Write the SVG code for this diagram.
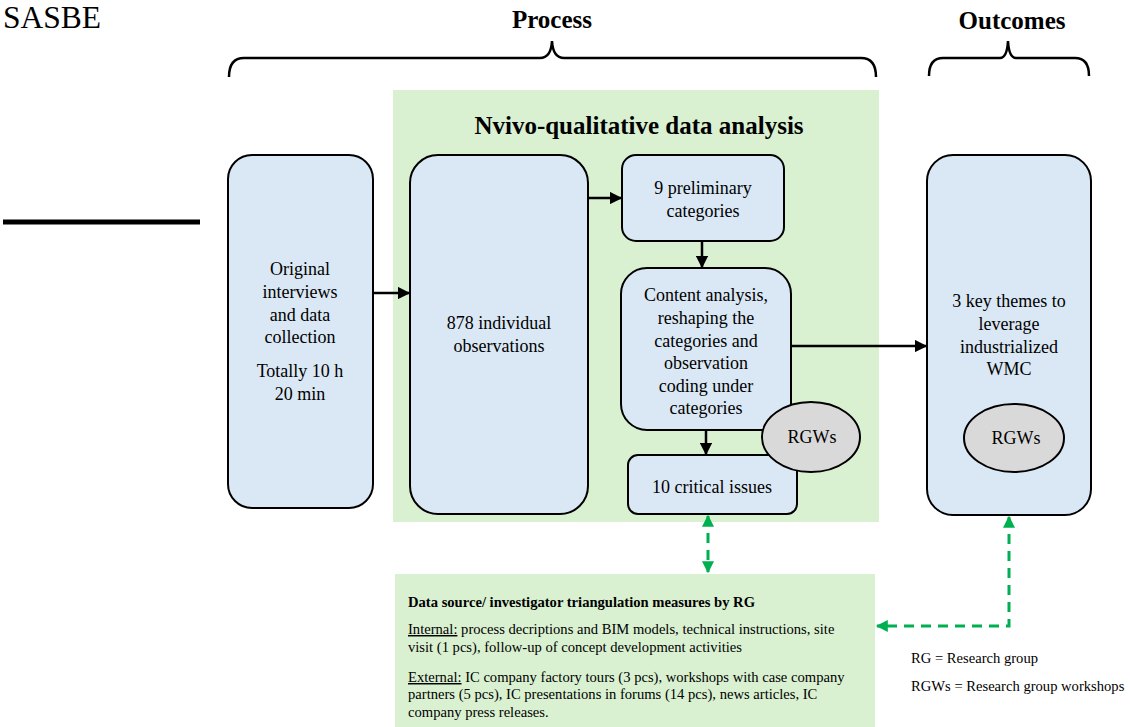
<svg xmlns="http://www.w3.org/2000/svg" width="1133" height="727" viewBox="0 0 1133 727" font-family="'Liberation Serif', 'Times New Roman', serif">
<defs>
<marker id="ab" viewBox="0 0 10 10" refX="9" refY="5" markerWidth="5" markerHeight="5" orient="auto-start-reverse" markerUnits="strokeWidth"><path d="M0,0 L10,5 L0,10 z" fill="#000"/></marker>
<marker id="ag" viewBox="0 0 10 10" refX="9" refY="5" markerWidth="4" markerHeight="4" orient="auto-start-reverse" markerUnits="strokeWidth"><path d="M0,0 L10,5 L0,10 z" fill="#00b050"/></marker>
<style>
text{font-family:'Liberation Serif','Times New Roman',serif;fill:#000}
.box{fill:#dae8f5;stroke:#000;stroke-width:2}
.ell{fill:#d9d9d9;stroke:#000;stroke-width:2}
.t{font-family:'Liberation Serif',serif;font-size:18px;text-anchor:middle}
.s{font-family:'Liberation Serif',serif;font-size:14.6px}
.h{font-family:'Liberation Serif',serif;font-size:25px;font-weight:bold;text-anchor:middle}
.c{fill:none;stroke:#000;stroke-width:2.5;marker-end:url(#ab)}
.g{fill:none;stroke:#00b050;stroke-width:3;stroke-dasharray:10,7;marker-end:url(#ag);marker-start:url(#ag)}
.br{fill:none;stroke:#000;stroke-width:2.5}
</style>
</defs>
<rect width="1133" height="727" fill="#fff"/>
<text x="3" y="28" font-size="31.5">SASBE</text>
<line x1="3" y1="222" x2="200" y2="222" stroke="#000" stroke-width="5"/>
<text class="h" x="552" y="28">Process</text>
<text class="h" x="1012" y="29">Outcomes</text>
<path class="br" d="M229,77 Q229,58 244,58 L540,58 Q551,58 552,41 Q553,58 564,58 L861,58 Q876,58 876,77"/>
<path class="br" d="M929,76 Q929,58 943,58 L1000,58 Q1007,58 1008,41 Q1009,58 1016,58 L1075,58 Q1089,58 1089,76"/>
<g id="panel"><rect x="393" y="90" width="486" height="432" fill="#d9f1d1"/>
<text class="h" x="639" y="134">Nvivo-qualitative data analysis</text></g>
<g id="n1"><rect class="box" x="228" y="155" width="145" height="353" rx="24"/>
<text class="t" x="300" y="275">Original</text><text class="t" x="300" y="298">interviews</text><text class="t" x="300" y="321">and data</text><text class="t" x="300" y="343">collection</text>
<text class="t" x="300" y="377">Totally 10 h</text><text class="t" x="300" y="400">20 min</text></g>
<g id="n2"><rect class="box" x="410" y="155" width="178" height="359" rx="28"/>
<text class="t" x="499" y="329">878 individual</text><text class="t" x="499" y="352">observations</text></g>
<g id="n3"><rect class="box" x="622" y="155" width="162" height="86" rx="14"/>
<text class="t" x="703" y="194">9 preliminary</text><text class="t" x="703" y="217">categories</text></g>
<g id="n4"><rect class="box" x="621" y="268" width="170" height="162" rx="26"/>
<text class="t" x="706" y="301">Content analysis,</text><text class="t" x="706" y="324">reshaping the</text><text class="t" x="706" y="347">categories and</text><text class="t" x="706" y="369">observation</text><text class="t" x="706" y="392">coding under</text><text class="t" x="706" y="414">categories</text></g>
<g id="n5"><rect class="box" x="628" y="455" width="169" height="59" rx="10"/>
<text class="t" x="712" y="493">10 critical issues</text></g>
<g id="e1"><ellipse class="ell" cx="811" cy="437" rx="49" ry="35"/><text class="t" x="812" y="443" font-size="15">RGWs</text></g>
<g id="n6"><rect class="box" x="927" y="155" width="164" height="360" rx="26"/>
<text class="t" x="1009" y="307">3 key themes to</text><text class="t" x="1009" y="330">leverage</text><text class="t" x="1009" y="353">industrialized</text><text class="t" x="1009" y="375">WMC</text></g>
<g id="e2"><ellipse class="ell" cx="1014" cy="438" rx="50" ry="34"/><text class="t" x="1016" y="444" font-size="15">RGWs</text></g>
<g id="n7"><rect x="395" y="574" width="480" height="153" fill="#d9f1d1"/>
<text class="s" x="408" y="607" font-weight="bold">Data source/ investigator triangulation measures by RG</text>
<text class="s" x="408" y="634"><tspan text-decoration="underline">Internal:</tspan> process decriptions and BIM models, technical instructions, site</text>
<text class="s" x="408" y="652">visit (1 pcs), follow-up of concept development activities</text>
<text class="s" x="408" y="682"><tspan text-decoration="underline">External:</tspan> IC company factory tours (3 pcs), workshops with case company</text>
<text class="s" x="408" y="699">partners (5 pcs), IC presentations in forums (14 pcs), news articles, IC</text>
<text class="s" x="408" y="717">company press releases.</text></g>
<g id="legend"><text class="s" x="911" y="663">RG = Research group</text><text class="s" x="911" y="691">RGWs = Research group workshops</text></g>
<g id="connectors">
<line class="c" x1="373" y1="293" x2="409" y2="293"/>
<line class="c" x1="588" y1="198" x2="621" y2="198"/>
<line class="c" x1="702" y1="241" x2="702" y2="267"/>
<line class="c" x1="706" y1="430" x2="706" y2="454"/>
<line class="c" x1="791" y1="346" x2="926" y2="346"/>
<line class="g" x1="708" y1="516" x2="708" y2="572"/>
<path class="g" d="M1009,517 L1009,626 L877,626"/>
</g>
</svg>
